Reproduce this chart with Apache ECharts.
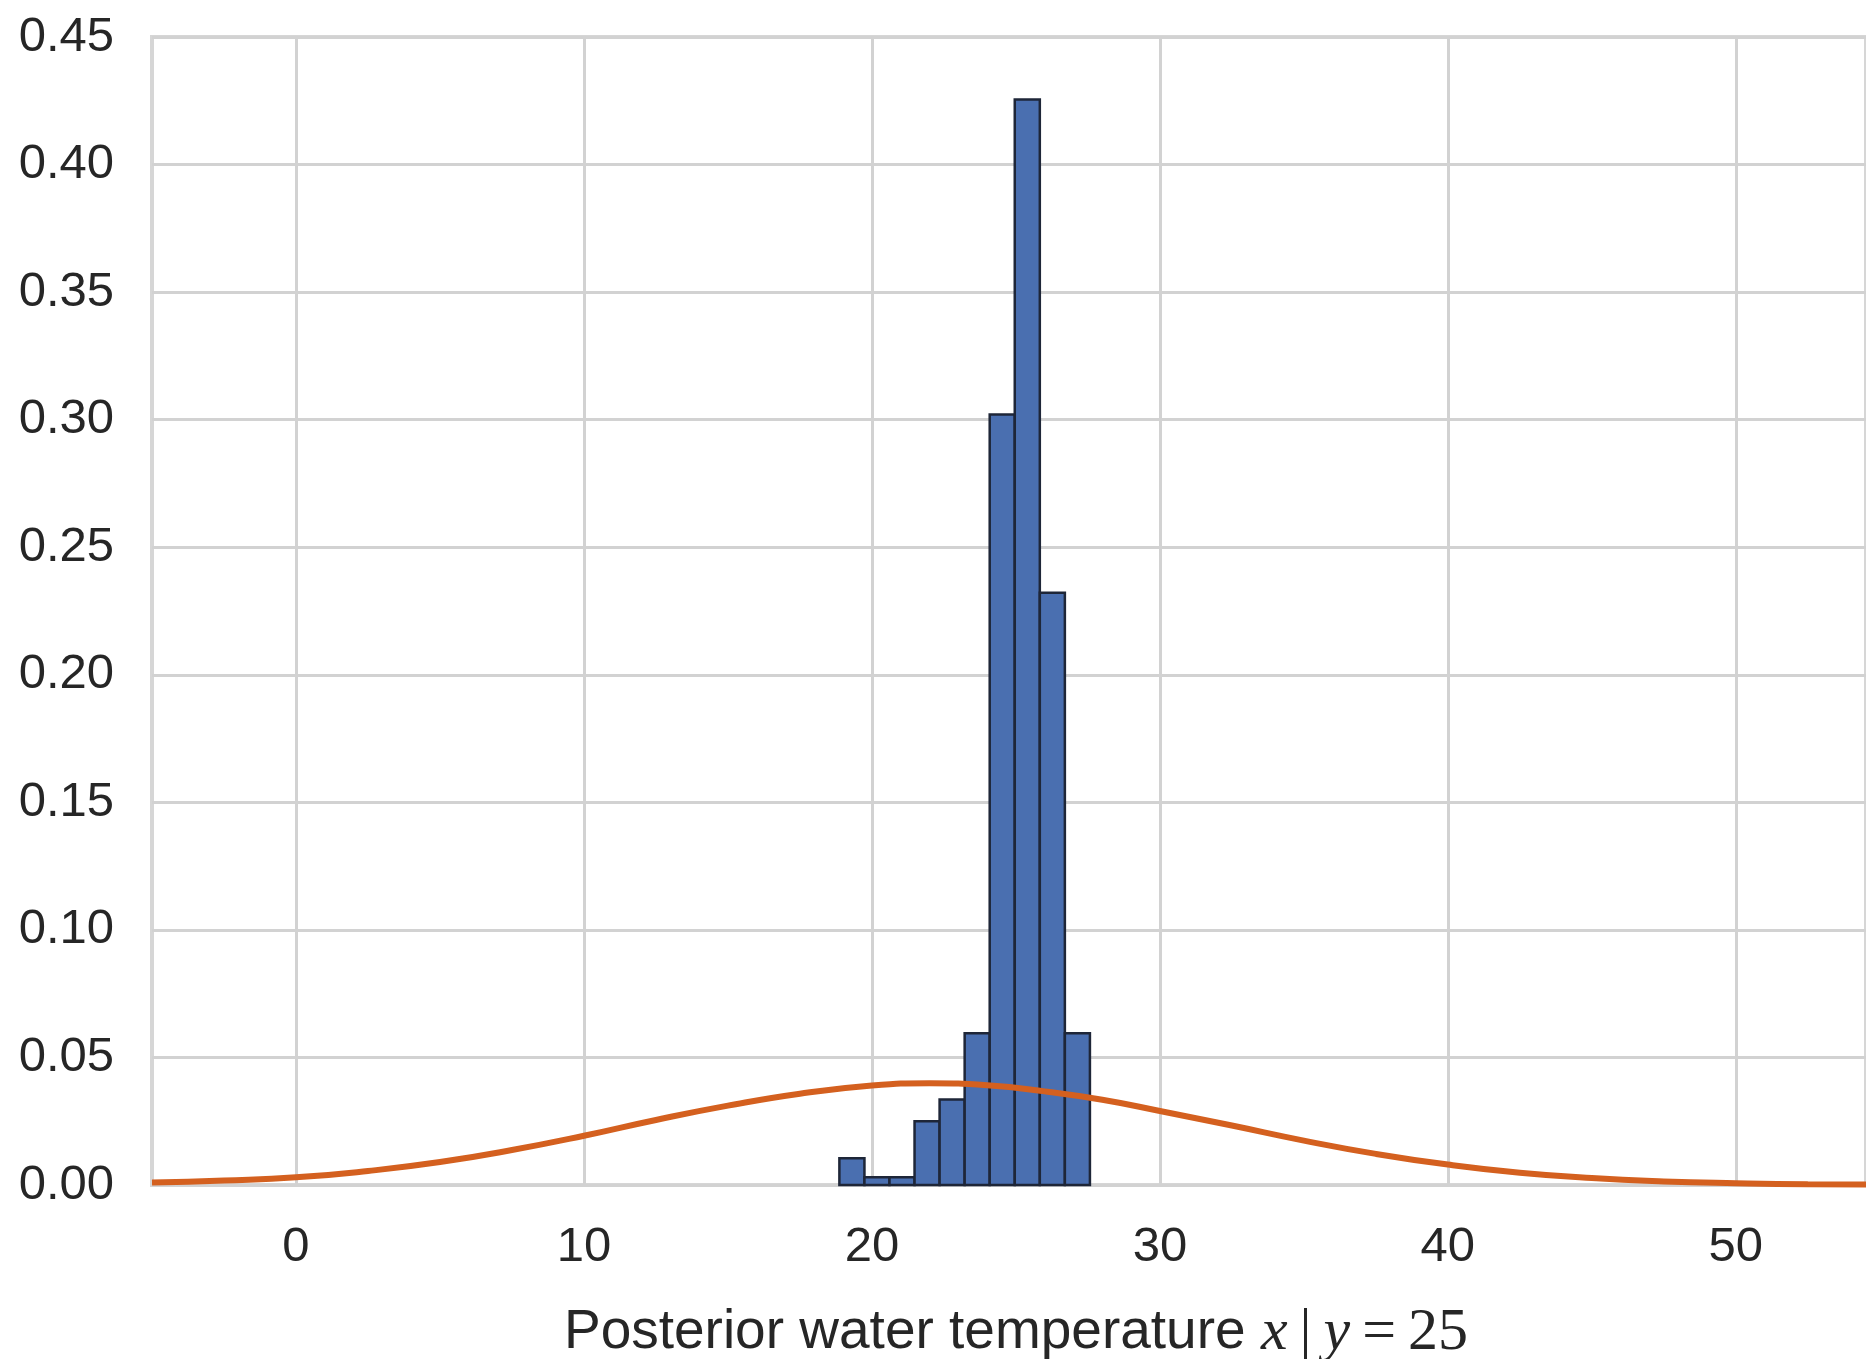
<!DOCTYPE html>
<html>
<head>
<meta charset="utf-8">
<script src="https://cdn.jsdelivr.net/npm/echarts@6/dist/echarts.min.js"></script>
<style>
html,body{margin:0;padding:0;background:#fff;}
#chart{width:1866px;height:1359px;}
</style>
</head>
<body>
<div id="chart"></div>
<script>
// Histogram bins (left edges, right edges) and densities
var binLeft  = [18.87, 19.74, 20.61, 21.48, 22.35, 23.22, 24.09, 24.96, 25.83, 26.70];
var binRight = [19.74, 20.61, 21.48, 22.35, 23.22, 24.09, 24.96, 25.83, 26.70, 27.57];
var density  = [0.0105, 0.0030, 0.0030, 0.0250, 0.0335, 0.0595, 0.3020, 0.4255, 0.2322, 0.0595];

// Orange curve
var curveX = [-5, -2.5, 0, 2.5, 5, 7.5, 10, 12.5, 15, 17.5, 20, 22, 24, 26, 28, 30, 32.5, 35, 37.5, 40, 42.5, 45, 47.5, 50, 52.5, 55];
var curveY = [0.0010, 0.0018, 0.0030, 0.0055, 0.0090, 0.0137, 0.0193, 0.0255, 0.0311, 0.0358, 0.0390, 0.0399, 0.0391, 0.0367, 0.0334, 0.0290, 0.0233, 0.0174, 0.0122, 0.0080, 0.0048, 0.0027, 0.0014, 0.0007, 0.0003, 0.0002];

var xTicks = [0, 10, 20, 30, 40, 50];
var yTicks = [0.00, 0.05, 0.10, 0.15, 0.20, 0.25, 0.30, 0.35, 0.40, 0.45];

var histData = binLeft.map(function (l, i) { return [l, binRight[i], density[i]]; });
var curveData = curveX.map(function (x, i) { return [x, curveY[i]]; });

var chart = echarts.init(document.getElementById('chart'), null, {renderer: 'canvas'});
var textColor = '#262626';
var gridColor = '#d2d2d2';
var sans = 'Liberation Sans, Arial, sans-serif';
var serif = 'Liberation Serif, DejaVu Serif, serif';

chart.setOption({
  animation: false,
  backgroundColor: '#ffffff',
  grid: {
    left: 152, right: 0, top: 37, bottom: 174,
    outerBoundsMode: 'none',
    containLabel: false,
    show: true, borderColor: '#d6d6d6', borderWidth: 4, backgroundColor: '#ffffff'
  },
  xAxis: {
    type: 'value',
    min: -5, max: 54.52,
    axisLine: {show: false},
    axisTick: {show: false, customValues: xTicks},
    splitLine: {show: true, lineStyle: {color: gridColor, width: 3}},
    axisLabel: {
      color: textColor, fontSize: 49, fontFamily: sans, margin: 38,
      customValues: xTicks,
      formatter: function (v) { return String(v); }
    },
    axisPointer: {show: false},
    name: '{a|Posterior water temperature }{m|x}{s|\u2009|\u2009}{m|y}{s|\u2009=\u200925}',
    nameLocation: 'middle',
    nameGap: 118,
    nameTextStyle: {
      padding: [0, 0, 0, 14],
      rich: {
        a: {fontSize: 55, fontFamily: sans, color: textColor},
        m: {fontSize: 60, fontFamily: serif, fontStyle: 'italic', color: textColor},
        s: {fontSize: 60, fontFamily: serif, color: textColor}
      }
    }
  },
  yAxis: {
    type: 'value',
    min: 0, max: 0.45, interval: 0.05,
    axisLine: {show: false},
    axisTick: {show: false},
    splitLine: {show: true, lineStyle: {color: gridColor, width: 3}},
    axisLabel: {
      color: textColor, fontSize: 49, fontFamily: sans, margin: 38,
      customValues: yTicks,
      formatter: function (v) { return v.toFixed(2); }
    }
  },
  series: [
    {
      type: 'custom',
      data: histData,
      encode: {x: [0, 1], y: 2},
      z: 2,
      renderItem: function (params, api) {
        var p0 = api.coord([api.value(0), api.value(2)]);
        var p1 = api.coord([api.value(1), 0]);
        return {
          type: 'rect',
          shape: {x: p0[0], y: p0[1], width: p1[0] - p0[0], height: p1[1] - p0[1]},
          style: {fill: '#4a6fb0', stroke: '#1e2638', lineWidth: 2.5}
        };
      }
    },
    {
      type: 'line',
      data: curveData,
      smooth: true,
      symbol: 'none',
      z: 5,
      lineStyle: {color: '#d4601f', width: 6},
      clip: true
    }
  ]
});
</script>
</body>
</html>
